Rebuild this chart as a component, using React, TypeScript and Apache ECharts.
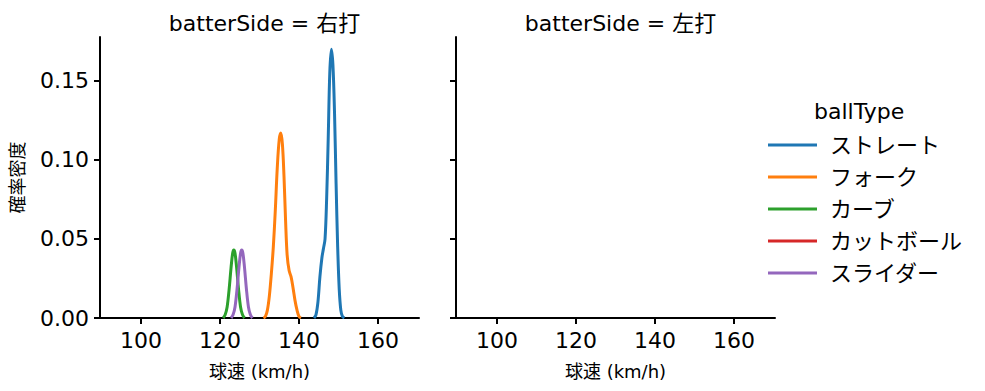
import React, { useEffect, useRef } from "react";
import * as echarts from "echarts";

const FONT = '"DejaVu Sans", "Noto Sans CJK JP", sans-serif';

const ballTypes = ["ストレート", "フォーク", "カーブ", "カットボール", "スライダー"];
const colors = ["#1f77b4", "#ff7f0e", "#2ca02c", "#d62728", "#9467bd"];
const panelTitles = ["batterSide = 右打", "batterSide = 左打"];
const xTicks = [100, 120, 140, 160];
const yTicks = [0, 0.05, 0.1, 0.15];

// KDE curves read from the left (右打) panel: [speed, density]
const straight: number[][] = [
  [143.8, 0.0], [144.3, 0.002], [144.8, 0.01], [145.3, 0.026], [145.8, 0.038],
  [146.2, 0.044], [146.6, 0.05], [147.0, 0.075], [147.4, 0.113], [147.8, 0.155],
  [148.2, 0.17], [148.6, 0.16], [149.0, 0.13], [149.4, 0.085], [149.8, 0.045],
  [150.2, 0.018], [150.6, 0.005], [151.0, 0.001], [151.5, 0.0],
];
const fork: number[][] = [
  [131.0, 0.0], [131.5, 0.001], [132.0, 0.005], [132.5, 0.014], [133.0, 0.028],
  [133.5, 0.045], [134.0, 0.068], [134.5, 0.095], [135.0, 0.113], [135.4, 0.117],
  [135.8, 0.11], [136.2, 0.09], [136.6, 0.062], [137.0, 0.04], [137.5, 0.03],
  [138.0, 0.026], [138.5, 0.019], [139.0, 0.011], [139.5, 0.005], [140.0, 0.001],
  [140.5, 0.0],
];
const curve: number[][] = [
  [120.8, 0.0], [121.3, 0.002], [121.8, 0.007], [122.3, 0.018], [122.8, 0.032],
  [123.2, 0.041], [123.5, 0.043], [123.8, 0.041], [124.2, 0.032], [124.7, 0.018],
  [125.2, 0.007], [125.7, 0.002], [126.2, 0.0],
];
const cutter: number[][] = [];
const slider: number[][] = [
  [122.8, 0.0], [123.3, 0.002], [123.8, 0.007], [124.3, 0.018], [124.8, 0.032],
  [125.2, 0.041], [125.5, 0.043], [125.8, 0.041], [126.2, 0.032], [126.7, 0.018],
  [127.2, 0.007], [127.7, 0.002], [128.2, 0.0],
];
const leftData = [straight, fork, curve, cutter, slider];

const X_MIN = 89.6;
const X_MAX = 170.4;
const Y_MAX = 0.1778;

export default function App() {
  const ref = useRef<HTMLDivElement>(null);
  useEffect(() => {
    if (!ref.current) return;
    const chart = echarts.init(ref.current, null, { renderer: "svg" });
    const axisLine = { show: true, lineStyle: { color: "#000", width: 2 } };
    const tick = { show: true, length: 6, lineStyle: { color: "#000", width: 2 } };
    const grids = [
      { left: 100, top: 37, width: 319, height: 281 },
      { left: 456, top: 37, width: 319, height: 281 },
    ];
    const xAxes = grids.map((_, i) => ({
      type: "value",
      gridIndex: i,
      min: X_MIN,
      max: X_MAX,
      axisLine,
      axisTick: { ...tick, customValues: xTicks },
      axisLabel: {
        customValues: xTicks,
        color: "#000",
        fontSize: 22,
        fontFamily: FONT,
        margin: 11,
      },
      splitLine: { show: false },
      name: "球速 (km/h)",
      nameLocation: "middle",
      nameGap: 44,
      nameTextStyle: { color: "#000", fontSize: 18, fontFamily: FONT },
    }));
    const yAxes = grids.map((_, i) => ({
      type: "value",
      gridIndex: i,
      min: 0,
      max: Y_MAX,
      axisLine,
      axisTick: { ...tick, customValues: yTicks },
      axisLabel: {
        show: i === 0,
        customValues: yTicks,
        color: "#000",
        fontSize: 22,
        fontFamily: FONT,
        margin: 11,
        formatter: (v: number) => v.toFixed(2),
      },
      splitLine: { show: false },
      name: i === 0 ? "確率密度" : "",
      nameLocation: "middle",
      nameGap: 74,
      nameTextStyle: { color: "#000", fontSize: 18, fontFamily: FONT },
    }));
    const series: any[] = [];
    ballTypes.forEach((name, k) => {
      series.push({
        name,
        type: "line",
        xAxisIndex: 0,
        yAxisIndex: 0,
        data: leftData[k],
        smooth: 0.35,
        showSymbol: false,
        lineStyle: { color: colors[k], width: 3 },
        itemStyle: { color: colors[k] },
      });
    });
    chart.setOption({
      animation: false,
      grid: grids,
      xAxis: xAxes,
      yAxis: yAxes,
      series,
      legend: {
        data: ballTypes,
        orient: "vertical",
        left: 763,
        top: 129,
        itemWidth: 49,
        itemHeight: 3,
        itemGap: 10,
        icon: "rect",
        textStyle: {
          color: "#000",
          fontSize: 22,
          fontFamily: FONT,
          lineHeight: 22,
          padding: [0, 0, 0, 8],
        },
      },
      title: panelTitles.map((t, i) => ({
        text: t,
        left: grids[i].left + grids[i].width / 2,
        textAlign: "center",
        top: 7,
        textStyle: { color: "#000", fontSize: 22, fontWeight: "normal", fontFamily: FONT },
      })),
      graphic: [
        {
          type: "text",
          left: 814,
          top: 100,
          style: { text: "ballType", fill: "#000", fontSize: 22, fontFamily: FONT },
        },
      ],
    });
    return () => chart.dispose();
  }, []);
  return (
    <div
      ref={ref}
      style={{ position: "absolute", left: 0, top: 0, width: 985, height: 391, background: "#fff" }}
    />
  );
}
